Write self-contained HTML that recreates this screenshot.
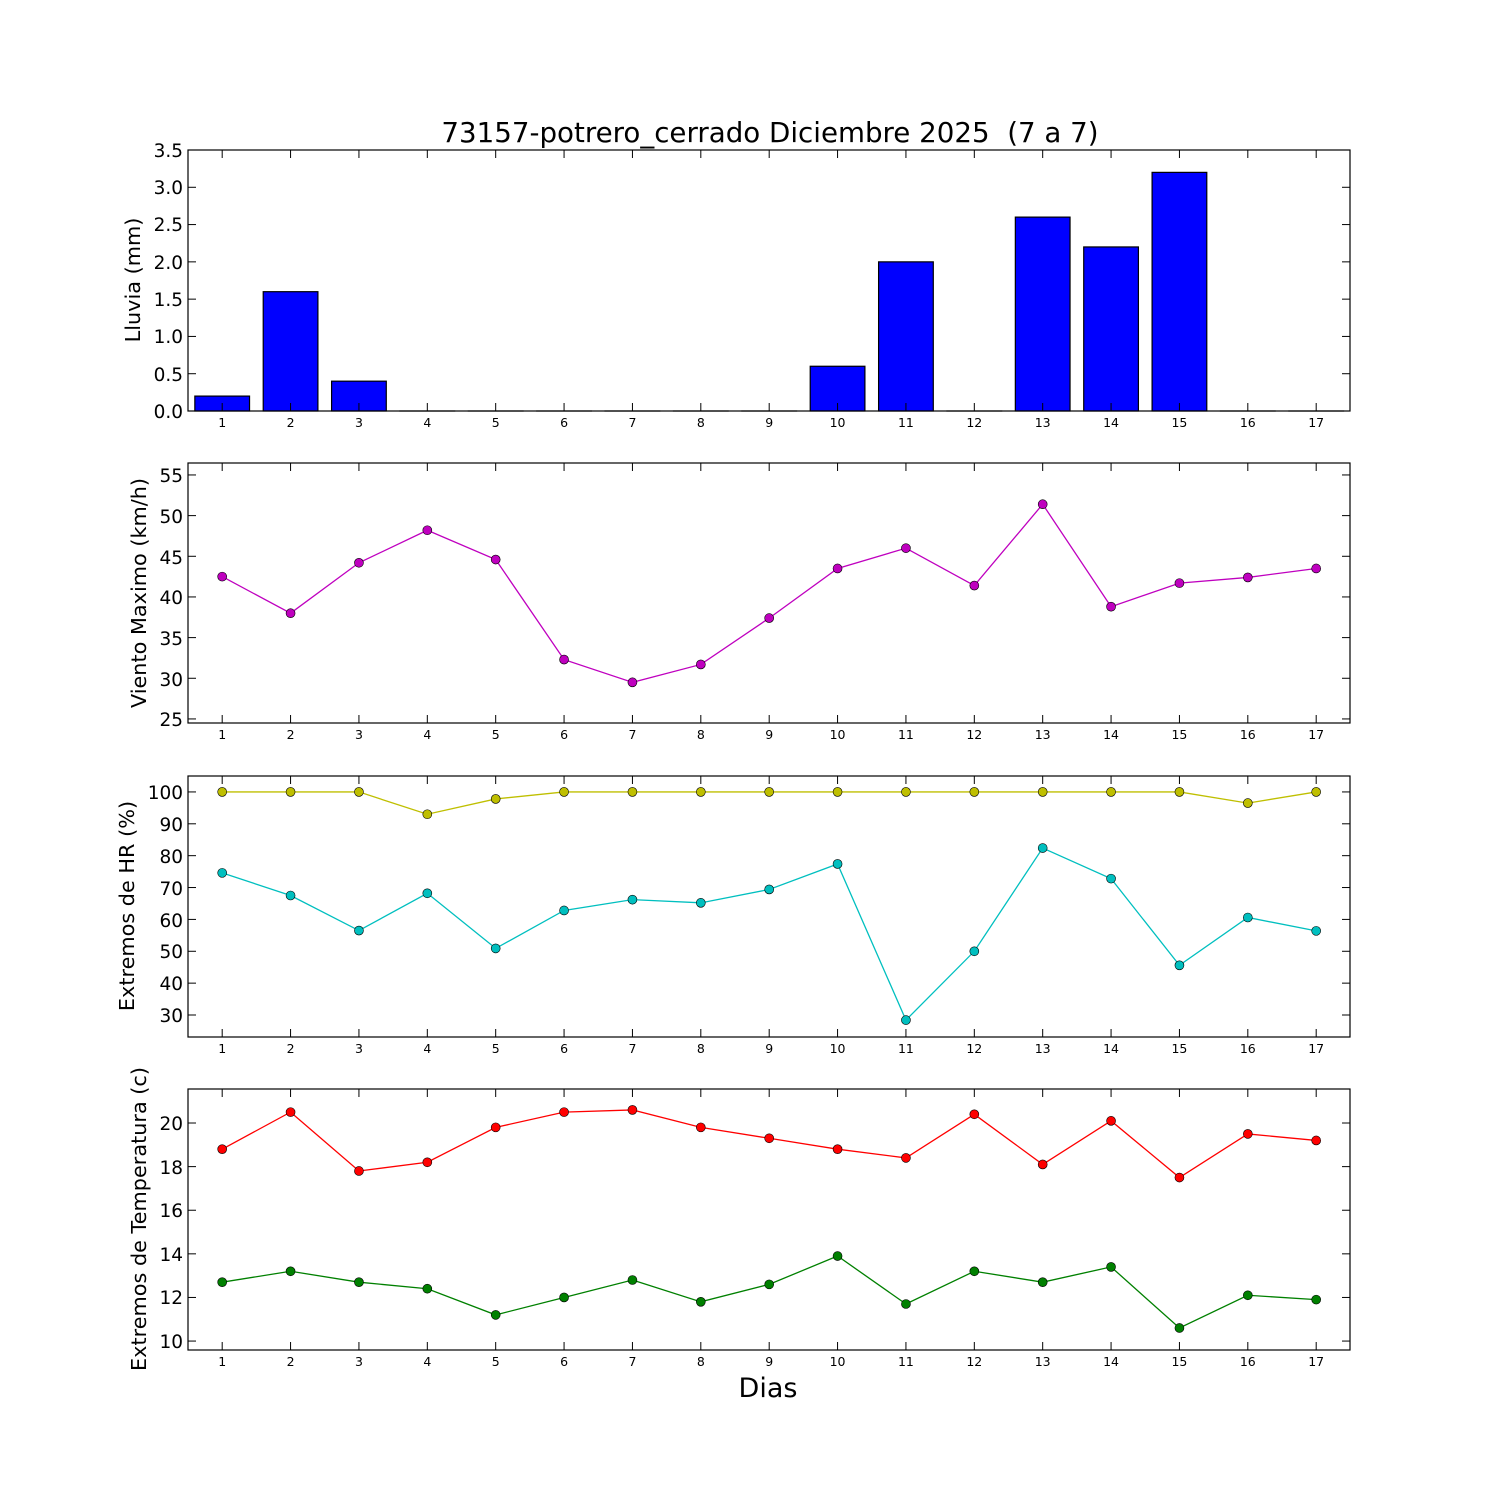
<!DOCTYPE html>
<html><head><meta charset="utf-8"><style>
body{margin:0;background:#fff}
svg text{font-family:"DejaVu Sans","Liberation Sans",sans-serif;fill:#000}
</style></head><body>
<svg id="s" width="1500" height="1500" viewBox="0 0 1500 1500" xmlns="http://www.w3.org/2000/svg">
<rect width="1500" height="1500" fill="#fff"/>
<text x="770" y="142" font-size="27.7" text-anchor="middle">73157-potrero_cerrado Diciembre 2025&#160; (7 a 7)</text>
<g id="plots"></g>
<g font-size="18.5" text-anchor="end">
<text x="183" y="157">3.5</text><text x="183" y="194">3.0</text><text x="183" y="231">2.5</text><text x="183" y="269">2.0</text><text x="183" y="306">1.5</text><text x="183" y="343">1.0</text><text x="183" y="381">0.5</text><text x="183" y="418">0.0</text>
<text x="183" y="482">55</text><text x="183" y="523">50</text><text x="183" y="564">45</text><text x="183" y="604">40</text><text x="183" y="645">35</text><text x="183" y="686">30</text><text x="183" y="726">25</text>
<text x="183" y="799">100</text><text x="183" y="831">90</text><text x="183" y="863">80</text><text x="183" y="895">70</text><text x="183" y="927">60</text><text x="183" y="958">50</text><text x="183" y="990">40</text><text x="183" y="1022">30</text>
<text x="183" y="1130">20</text><text x="183" y="1174">18</text><text x="183" y="1217">16</text><text x="183" y="1261">14</text><text x="183" y="1304">12</text><text x="183" y="1348">10</text>
</g>
<g font-size="20.8" text-anchor="middle">
<text transform="translate(140,280) rotate(-90)">Lluvia (mm)</text>
<text transform="translate(146,593) rotate(-90)">Viento Maximo (km/h)</text>
<text transform="translate(134,906) rotate(-90)">Extremos de HR (%)</text>
<text transform="translate(146,1219) rotate(-90)">Extremos de Temperatura (c)</text>
</g>
<text x="768" y="1397" font-size="27" text-anchor="middle">Dias</text>
<g id="xl" font-size="12.5" text-anchor="middle"></g>
</svg>
<script>
const NS="http://www.w3.org/2000/svg",g=document.getElementById('plots'),xl=document.getElementById('xl');
function el(t,a,p){const e=document.createElementNS(NS,t);for(const k in a)e.setAttribute(k,a[k]);(p||g).appendChild(e);return e;}
const X=d=>188+(d-0.5)*68.375;
const panels=[{t:150,b:411,lo:0,hi:3.5,ticks:[0,.5,1,1.5,2,2.5,3,3.5]},
{t:463,b:723,lo:24.5,hi:56.47,ticks:[25,30,35,40,45,50,55]},
{t:776,b:1037,lo:23.1,hi:105,ticks:[30,40,50,60,70,80,90,100]},
{t:1089,b:1350,lo:9.59,hi:21.56,ticks:[10,12,14,16,18,20]}];
const Y=(p,v)=>p.b-(v-p.lo)/(p.hi-p.lo)*(p.b-p.t);
const rain=[.2,1.6,.4,0,0,0,0,0,0,.6,2,0,2.6,2.2,3.2,0,0];
const wind=[42.5,38,44.2,48.2,44.6,32.3,29.5,31.7,37.4,43.5,46,41.4,51.4,38.8,41.7,42.4,43.5];
const hx=[100,100,100,93,97.8,100,100,100,100,100,100,100,100,100,100,96.5,100];
const hn=[74.6,67.5,56.5,68.2,50.9,62.8,66.2,65.2,69.4,77.4,28.4,50,82.4,72.8,45.6,60.6,56.4];
const tx=[18.8,20.5,17.8,18.2,19.8,20.5,20.6,19.8,19.3,18.8,18.4,20.4,18.1,20.1,17.5,19.5,19.2];
const tn=[12.7,13.2,12.7,12.4,11.2,12,12.8,11.8,12.6,13.9,11.7,13.2,12.7,13.4,10.6,12.1,11.9];
rain.forEach((v,i)=>{const p=panels[0],x=X(i+1)-27.35,y=Y(p,v);el('rect',{x:x,y:y,width:54.7,height:Math.max(p.b-y,0.01),fill:'#0000ff',stroke:'#000','stroke-width':1.2});});
function line(p,data,c){el('polyline',{points:data.map((v,i)=>X(i+1)+','+Y(p,v)).join(' '),fill:'none',stroke:c,'stroke-width':1.3});
data.forEach((v,i)=>el('circle',{cx:X(i+1),cy:Y(p,v),r:4.5,fill:c,stroke:'#000','stroke-width':0.6}));}
line(panels[1],wind,'#bf00bf');line(panels[2],hx,'#bfbf00');line(panels[2],hn,'#00bfbf');line(panels[3],tx,'#ff0000');line(panels[3],tn,'#008000');
panels.forEach(p=>{
 el('rect',{x:188,y:p.t,width:1162,height:p.b-p.t,fill:'none',stroke:'#000','stroke-width':1.2});
 for(let d=1;d<=17;d++){const x=X(d);el('line',{x1:x,x2:x,y1:p.b,y2:p.b-8,stroke:'#000'});el('line',{x1:x,x2:x,y1:p.t,y2:p.t+8,stroke:'#000'});
  const t=el('text',{x:x,y:p.b+16},xl);t.textContent=d;}
 p.ticks.forEach(v=>{const y=Y(p,v);el('line',{x1:188,x2:196,y1:y,y2:y,stroke:'#000'});el('line',{x1:1350,x2:1342,y1:y,y2:y,stroke:'#000'});});
});
</script>
</body></html>
